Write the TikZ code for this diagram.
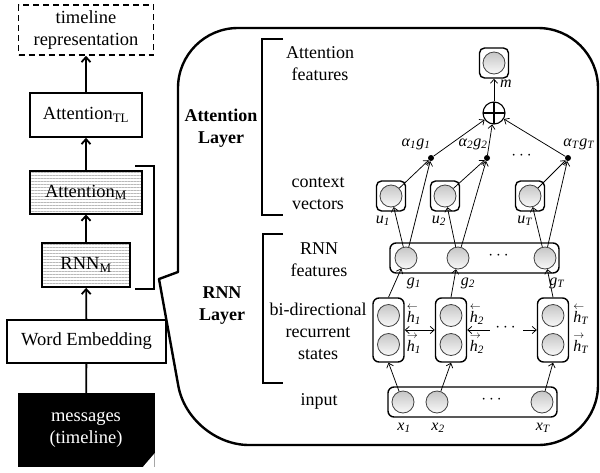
\documentclass[tikz,border=0pt]{standalone}
\usepackage{amsmath}
\usepackage{fontspec}
\setmainfont{Liberation Serif}
\usetikzlibrary{arrows.meta,patterns.meta}
\newcommand{\bigf}{\fontsize{18.5}{22}\selectfont}
\newcommand{\midf}{\fontsize{18}{22}\selectfont}
\newcommand{\labf}{\fontsize{16}{18}\selectfont}
\newcommand{\vl}[2]{\textit{#1}\textsubscript{\textit{#2}}}
\newcommand{\hlft}[1]{\rlap{\raisebox{1.75ex}{$\scriptstyle\leftarrow$}}\textit{h}\textsubscript{\textit{#1}}}
\newcommand{\hrgt}[1]{\rlap{\raisebox{1.75ex}{$\scriptstyle\rightarrow$}}\textit{h}\textsubscript{\textit{#1}}}
\begin{document}
\begin{tikzpicture}[x=1pt,y=-1pt,
  lbox/.style={draw, line width=1.6pt, minimum height=44pt, inner sep=0pt, font=\bigf, align=center},
  hatch/.style={pattern={Lines[angle=0,distance=3pt,line width=0.9pt]}, pattern color=gray!55},
  bigarrow/.style={line width=1.8pt, -{Straight Barb[length=5pt,width=9pt]}},
  plainline/.style={line width=1.8pt},
  frame/.style={line width=2.4pt, line cap=round, line join=round},
  brk/.style={line width=1.5pt},
  desc/.style={font=\midf, align=center, inner sep=0pt},
  layer/.style={font=\midf\bfseries, align=center, inner sep=0pt},
  neuron/.style={circle, draw=black!75, line width=0.8pt, minimum size=22pt, inner sep=0pt, top color=gray!45, bottom color=gray!5},
  rowbox/.style={draw, rounded corners=6pt, line width=1.4pt, inner sep=0pt},
  ubox/.style={draw, rounded corners=5pt, line width=1.4pt, minimum width=29pt, minimum height=30pt, inner sep=0pt},
  conn/.style={line width=0.75pt, -{Straight Barb[length=4pt,width=7pt]}},
  dconn/.style={line width=0.75pt, {Straight Barb[length=4pt,width=7pt]}-{Straight Barb[length=4pt,width=7pt]}},
  lconn/.style={line width=0.75pt, {Straight Barb[length=4pt,width=7pt]}-},
  lab/.style={font=\labf, inner sep=0pt},
  dotn/.style={circle, fill=black, minimum size=6pt, inner sep=0pt}
]
\useasboundingbox (0,0) rectangle (600,472);

% ---------- left column ----------
\node[lbox, dashed, dash pattern=on 6pt off 4pt, minimum width=135pt, minimum height=50pt] (tl) at (86,30) {timeline\\representation};
\node[lbox, minimum width=112pt] (atl) at (86,115) {Attention\textsubscript{TL}};
\node[lbox, hatch, minimum width=112pt, minimum height=43pt] (am) at (86,192.5) {Attention\textsubscript{M}};
\node[lbox, hatch, minimum width=88pt] (rnnm) at (86,265) {RNN\textsubscript{M}};
\node[lbox, minimum width=159pt, minimum height=43pt] (we) at (86.5,341.5) {Word Embedding};
\node[fill=black, text=white, minimum width=137pt, minimum height=74pt, inner sep=0pt, align=center, font=\bigf] (msg) at (86,430) {messages\\(timeline)};
\fill[white] (msg.south east) -- ++(-12,0) -- ++(12,-14) -- cycle;

\draw[plainline] (msg) -- (we);
\draw[bigarrow] (we) -- (rnnm);
\draw[bigarrow] (rnnm) -- (am);
\draw[bigarrow] (am) -- (atl);
\draw[bigarrow] (atl) -- (tl);

\draw[line width=2pt] (135,166) -- (154,166) -- (154,289) -- (135,289);

% ---------- callout frame ----------
\draw[frame, rounded corners=60pt] (178,272) -- (178,28) -- (598,28) -- (598,445) -- (189,445) -- (159,279);
\draw[frame] (159,279) -- (178,272);

% ---------- layer labels ----------
\draw[brk] (283,39) -- (262,39) -- (262,215) -- (283,215);
\draw[brk] (283,234) -- (263,234) -- (263,383) -- (283,383);
\node[layer] (attlayer) at (221,128) {Attention\\Layer};
\node[layer] (rnnlayer) at (222,306) {RNN\\Layer};
\node[desc] (dattf) at (320,64) {Attention\\features};
\node[desc] (dctx) at (318,194) {context\\vectors};
\node[desc] (drnnf) at (319,260) {RNN\\features};
\node[desc] (dbi) at (318,331) {bi-directional\\recurrent\\states};
\node[desc] (dinp) at (319,401) {input};

% ---------- input row ----------
\node[rowbox, minimum width=169pt, minimum height=30pt] (inrow) at (472.5,402) {};
\node[neuron] (x1) at (403,402) {};
\node[neuron] (x2) at (437,402) {};
\node[neuron] (xT) at (542,402) {};
\node[lab] (xdots) at (493,400) {$\cdots$};
\node[lab] (lx1) at (404,428) {\vl{x}{1}};
\node[lab] (lx2) at (438,428) {\vl{x}{2}};
\node[lab] (lxT) at (543,428) {\vl{x}{T}};

% ---------- bi-directional states ----------
\node[rowbox, minimum width=31pt, minimum height=64pt] (b1) at (388.5,330) {};
\node[neuron] (b1u) at (388.5,315.5) {};
\node[neuron] (b1d) at (388.5,344.5) {};
\node[rowbox, minimum width=31pt, minimum height=64pt] (b2) at (451,330) {};
\node[neuron] (b2u) at (451,315.5) {};
\node[neuron] (b2d) at (451,344.5) {};
\node[rowbox, minimum width=31pt, minimum height=64pt] (bT) at (553,330) {};
\node[neuron] (bTu) at (553,315.5) {};
\node[neuron] (bTd) at (553,344.5) {};
\node[lab] (h1l) at (414,315) {\hlft{1}};
\node[lab] (h1r) at (414,344) {\hrgt{1}};
\node[lab] (h2l) at (477,315) {\hlft{2}};
\node[lab] (h2r) at (477,344) {\hrgt{2}};
\node[lab] (hTl) at (581,315) {\hlft{T}};
\node[lab] (hTr) at (581,344) {\hrgt{T}};

\draw[dconn] (b1.east) -- (b2.west);
\coordinate (la) at (490,330);
\coordinate (ra) at (523,330);
\draw[lconn] (b2.east) -- (la);
\node[lab] (bdots) at (507,328) {$\cdots$};
\draw[conn] (ra) -- (bT.west);

\draw[conn] (x1) -- (b1.south);
\draw[conn] (x2) -- (b2.south);
\draw[conn] (xT) -- (bT.south);

% ---------- RNN features ----------
\node[rowbox, minimum width=169pt, minimum height=30pt] (grow) at (474.5,258) {};
\node[neuron] (g1) at (406,258) {};
\node[neuron] (g2) at (458,258) {};
\node[neuron] (gT) at (545,258) {};
\node[lab] (gdots) at (500,256) {$\cdots$};
\node[lab] (lg1) at (414,283) {\vl{g}{1}};
\node[lab] (lg2) at (468,283) {\vl{g}{2}};
\node[lab] (lgT) at (557,283) {\vl{g}{T}};

\draw[conn] (b1.north) -- (g1);
\draw[conn] (b2.north) -- (g2);
\draw[conn] (bT.north) -- (gT);

% ---------- context vectors ----------
\node[ubox] (u1b) at (391,196) {};
\node[neuron] (u1) at (391,196) {};
\node[ubox] (u2b) at (445,196) {};
\node[neuron] (u2) at (445,196) {};
\node[ubox] (uTb) at (530,196) {};
\node[neuron] (uT) at (530,196) {};
\node[lab] (lu1) at (383,221) {\vl{u}{1}};
\node[lab] (lu2) at (439,221) {\vl{u}{2}};
\node[lab] (luT) at (525,221) {\vl{u}{T}};

\draw[conn] (g1) -- (u1);
\draw[conn] (g2) -- (u2);
\draw[conn] (gT) -- (uT);

% ---------- weighted features ----------
\node[dotn] (d1) at (431,158) {};
\node[dotn] (d2) at (487,158) {};
\node[dotn] (dT) at (568,158) {};
\node[lab] (ld1) at (416,144) {\textit{α}\textsubscript{\textit{1}}\textit{g}\textsubscript{\textit{1}}};
\node[lab] (ld2) at (473,144) {\textit{α}\textsubscript{\textit{2}}\textit{g}\textsubscript{\textit{2}}};
\node[lab] (ldT) at (579,144) {\textit{α}\textsubscript{\textit{T}}\textit{g}\textsubscript{\textit{T}}};
\node[lab] (ddots) at (523,156) {$\cdots$};

\draw[conn] (u1) -- (d1);
\draw[conn] (g1) -- (d1);
\draw[conn] (u2) -- (d2);
\draw[conn] (g2) -- (d2);
\draw[conn] (uT) -- (dT);
\draw[conn] (gT) -- (dT);

% ---------- sum and output ----------
\node[circle, draw, line width=1.1pt, minimum size=22pt, inner sep=0pt,
  path picture={\draw[line width=1.1pt] (path picture bounding box.north) -- (path picture bounding box.south)
  (path picture bounding box.west) -- (path picture bounding box.east);}] (plus) at (494,113) {};
\draw[conn] (d1) -- (plus);
\draw[conn] (d2) -- (plus);
\draw[conn] (dT) -- (plus);

\node[ubox] (mb) at (494,63) {};
\node[neuron] (mc) at (494,63) {};
\node[lab] (lm) at (506,84) {\textit{m}};
\draw[conn] (plus) -- (mb);
\end{tikzpicture}
\end{document}
